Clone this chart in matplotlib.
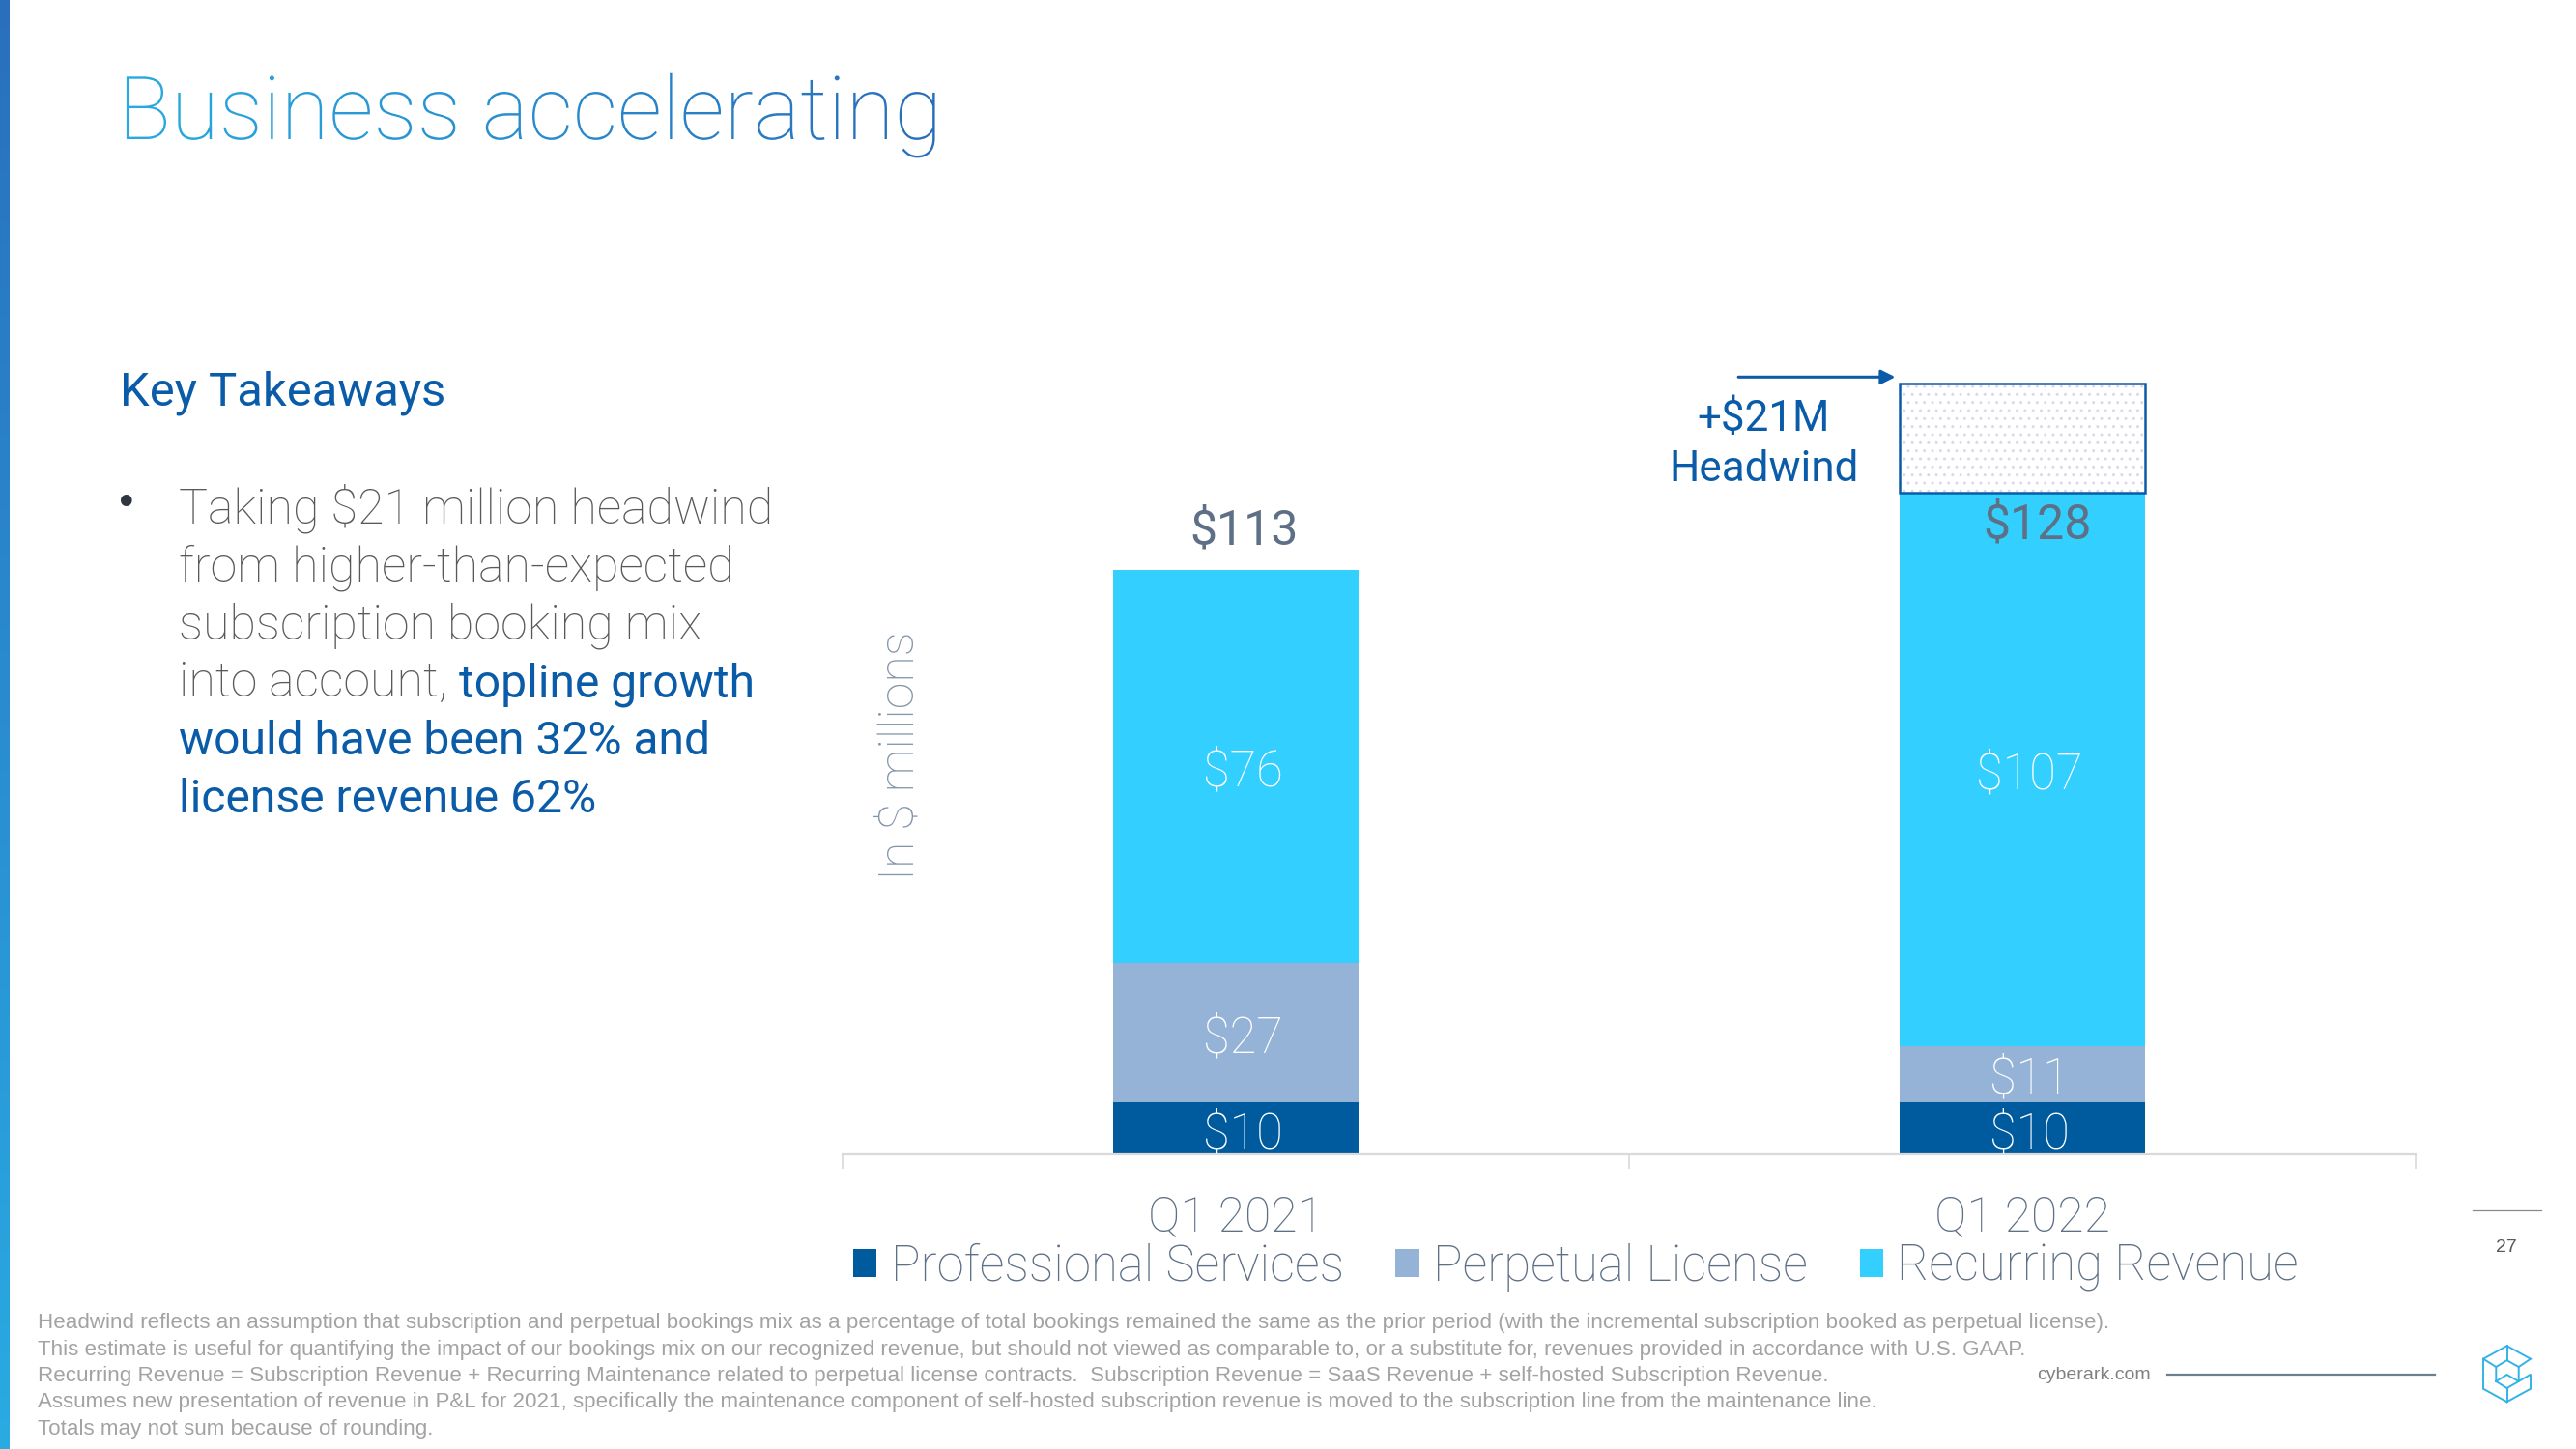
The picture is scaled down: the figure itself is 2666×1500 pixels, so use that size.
import numpy as np
import matplotlib
matplotlib.use('Agg')
import matplotlib.pyplot as plt
from matplotlib.textpath import TextPath
from matplotlib.font_manager import FontProperties
from matplotlib.patches import PathPatch
from matplotlib.transforms import Affine2D
from matplotlib.colors import LinearSegmentedColormap

# ---------------- data ----------------
categories = ['Q1 2021', 'Q1 2022']
series_names = ['Professional Services', 'Perpetual License', 'Recurring Revenue']
prof_services = [10, 10]
perpetual_license = [27, 11]
recurring_revenue = [76, 107]
totals = [113, 128]
headwind = [0, 21]
headwind_label = '+$21M\nHeadwind'

title = 'Business accelerating'
subtitle = 'Key Takeaways'
bullet_lines_grey = ['Taking $21 million headwind', 'from higher-than-expected',
                     'subscription booking mix', 'into account,']
bullet_lines_blue = ['topline growth', 'would have been 32% and', 'license revenue 62%']
footnotes = [
    'Headwind reflects an assumption that subscription and perpetual bookings mix as a percentage of total bookings remained the same as the prior period (with the incremental subscription booked as perpetual license).',
    'This estimate is useful for quantifying the impact of our bookings mix on our recognized revenue, but should not viewed as comparable to, or a substitute for, revenues provided in accordance with U.S. GAAP.',
    'Recurring Revenue = Subscription Revenue + Recurring Maintenance related to perpetual license contracts.  Subscription Revenue = SaaS Revenue + self-hosted Subscription Revenue.',
    'Assumes new presentation of revenue in P&L for 2021, specifically the maintenance component of self-hosted subscription revenue is moved to the subscription line from the maintenance line.',
    'Totals may not sum because of rounding.',
]
page_number = '27'
site = 'cyberark.com'

# ---------------- style ----------------
W, H = 2666, 1500
C_PS = '#005a9e'
C_PL = '#95b3d7'
C_RR = '#33cfff'
C_DARKBLUE = '#0b5ca8'
C_SLATE = '#5e7085'
C_GREY = '#595959'


def pt(px):
    return px * 0.72


fig = plt.figure(figsize=(W / 100, H / 100), dpi=100)
fig.patch.set_facecolor('white')

ov = fig.add_axes([0, 0, 1, 1])
ov.axis('off')

# left gradient strip
strip_cmap = LinearSegmentedColormap.from_list('strip', ['#2a6fbd', '#29abe2'])
ov.imshow(np.linspace(0, 1, 256).reshape(-1, 1), cmap=strip_cmap,
          extent=[0, 10, H, 0], aspect='auto')

# gradient title
fp_title = FontProperties(family='Roboto', weight='light')
tp = TextPath((0, 0), title, size=91, prop=fp_title)
ttrans = Affine2D().scale(1, -1).translate(122, 144) + ov.transData
tpatch = PathPatch(tp, transform=ttrans, facecolor='none', edgecolor='none')
ov.add_patch(tpatch)
title_cmap = LinearSegmentedColormap.from_list('title', ['#29abe2', '#2a6cb9'])
im = ov.imshow(np.linspace(0, 1, 256).reshape(1, -1), cmap=title_cmap,
               extent=[115, 1000, 180, 60], aspect='auto')
im.set_clip_path(tpatch)
ov.set_xlim(0, W)
ov.set_ylim(H, 0)

# Key takeaways
ov.text(124, 420, subtitle, fontsize=pt(49), color=C_DARKBLUE, family='Roboto',
        va='baseline')

# bullet
ov.text(131, 522, '\u2022', fontsize=pt(40), color='#2f3640', family='DejaVu Sans',
        va='center', ha='center')
baselines = [541, 601, 661, 721, 781, 841]
renderer = fig.canvas.get_renderer()
last_grey = None
for i, line in enumerate(bullet_lines_grey):
    last_grey = ov.text(185, baselines[i], line, fontsize=pt(50.1), color=C_GREY,
                        family='Roboto', weight='light', va='baseline')
bb = last_grey.get_window_extent(renderer)
xb = 185 + bb.width + 0.25 * 49
ov.text(xb, baselines[3], bullet_lines_blue[0], fontsize=pt(48), color=C_DARKBLUE,
        family='Roboto', va='baseline')
for j, line in enumerate(bullet_lines_blue[1:]):
    ov.text(185, baselines[4 + j], line, fontsize=pt(48), color=C_DARKBLUE,
            family='Roboto', va='baseline')

# footnotes
for k, fn in enumerate(footnotes):
    ov.text(39, 1370 + k * 27.3, fn, fontsize=16.1, color='#a3a3a3',
            family='Liberation Sans', va='center')

# footer elements
ov.text(2108, 1423, site, fontsize=14, color='#808080', family='Liberation Sans',
        va='center')
ov.plot([2243, 2520], [1423, 1423], color='#6d7f8f', lw=1.6)
ov.plot([2559, 2630], [1253, 1253], color='#8a8a8a', lw=0.9)
ov.text(2594, 1292, page_number, fontsize=14, color='#595959', family='Liberation Sans',
        va='center', ha='center')

# logo (isometric cube outline)
cx, cy = 2594.5, 1422.2
lc = '#33b2e8'
T, UR, LR, B = (0, -29), (24.5, -15.5), (24.5, 15.5), (0, 29)
LL, UL = (-24.5, 15.5), (-24.5, -15.5)
I1, I2, I3, I4 = (0, -14), (-11.2, -7.2), (12.2, -7.2), (-11.2, 7.8)
I5, I6, I7 = (12.2, 7.8), (0, 0.8), (0, 14.8)
logo_paths = [
    [B, LL, UL, T, UR, I3, I5, (24.5, 0.5), LR, B],
    [T, I1], [I2, I1, I3], [UL, I2, I4], [I4, I6, I5, I7, I4], [I7, B],
]
for path in logo_paths:
    px_ = [cx + p[0] for p in path]
    py_ = [cy + p[1] for p in path]
    ov.plot(px_, py_, color=lc, lw=1.4, solid_joinstyle='miter')

# ---------------- chart ----------------
ax = fig.add_axes([872 / W, 305 / H, 1628 / W, 895 / H])
ax.patch.set_alpha(0)
x = np.arange(len(categories))
bw = 0.313
ps = np.array(prof_services)
pl = np.array(perpetual_license)
rr = np.array(recurring_revenue)
b1 = ax.bar(x, ps, bw, color=C_PS, label=series_names[0])
b2 = ax.bar(x, pl, bw, bottom=ps, color=C_PL, label=series_names[1])
b3 = ax.bar(x, rr, bw, bottom=ps + pl, color=C_RR, label=series_names[2])
for cont in (b1, b2, b3):
    for rect, v in zip(cont.patches, cont.datavalues):
        ax.annotate(f'${v:g}', xy=(rect.get_x() + rect.get_width() / 2,
                                   rect.get_y() + rect.get_height() / 2),
                    xytext=(5.5, -4.3), textcoords='offset points', ha='center',
                    va='center', color='white', fontsize=pt(50.5), family='Roboto',
                    weight='light')

stack_top = ps + pl + rr
hw = np.array(headwind)
mask = hw > 0
ax.bar(x[mask], hw[mask], bw, bottom=stack_top[mask], facecolor='white',
       edgecolor='#ddd8e8', hatch='..', linewidth=0)
ax.bar(x[mask], hw[mask], bw, bottom=stack_top[mask], fill=False,
       edgecolor=C_DARKBLUE, linewidth=1.8)

total_offsets_pt = [(6.4, 29), (11, -24.5)]
for xi, tot, off in zip(x, totals, total_offsets_pt):
    ax.annotate(f'${tot}', xy=(xi, stack_top[xi]), xytext=off,
                textcoords='offset points', ha='center', va='center',
                fontsize=pt(50), color=C_SLATE, family='Roboto')

for xi in x[mask]:
    top = stack_top[xi] + hw[xi]
    ya = top + 1.3
    ax.annotate('', xy=(xi - bw / 2 - 0.005, ya), xytext=(xi - bw / 2 - 0.2045, ya),
                arrowprops=dict(arrowstyle='-|>', color=C_DARKBLUE, lw=2.2,
                                mutation_scale=22, shrinkA=0, shrinkB=0))
    ax.annotate(headwind_label, xy=(xi - bw / 2 - 0.1725, top), xytext=(0, -45),
                textcoords='offset points', ha='center', va='center',
                fontsize=pt(44), color=C_DARKBLUE, family='Roboto', linespacing=1.3)

ax.set_xlim(-0.5, 1.5)
ax.set_ylim(0, 895 / 5.354)
for s in ('top', 'right', 'left'):
    ax.spines[s].set_visible(False)
ax.spines['bottom'].set_color('#d9d9d9')
ax.spines['bottom'].set_linewidth(1.6)
ax.set_yticks([])
ax.set_xticks(x, categories)
ax.set_xticks([-0.5, 0.5, 1.5], minor=True)
ax.tick_params(axis='x', which='major', length=0, pad=pt(42), labelsize=pt(50),
               labelcolor=C_SLATE)
ax.tick_params(axis='x', which='minor', length=pt(15), width=1.2, color='#d9d9d9')
for lab in ax.get_xticklabels():
    lab.set_family('Roboto')
    lab.set_weight('light')
ax.set_ylabel('In $ millions', fontsize=pt(50), color='#8395a8', family='Roboto',
              weight='light')
ax.yaxis.label.set_va('center')
ax.yaxis.set_label_coords(60 / 1628, (1195 - 782) / 895)

leg = ax.legend(handles=[b1, b2, b3], labels=series_names, loc='center left',
                bbox_to_anchor=(883 / W, 1 - 1312 / H), bbox_transform=fig.transFigure,
                ncol=3, frameon=False, borderpad=0, borderaxespad=0,
                handlelength=0.48, handleheight=0.48, handletextpad=0.28,
                columnspacing=1.05,
                prop=FontProperties(family='Roboto', weight='light', size=pt(51)),
                labelcolor=C_SLATE)

fig.savefig('out.png', dpi=100, facecolor='white')
